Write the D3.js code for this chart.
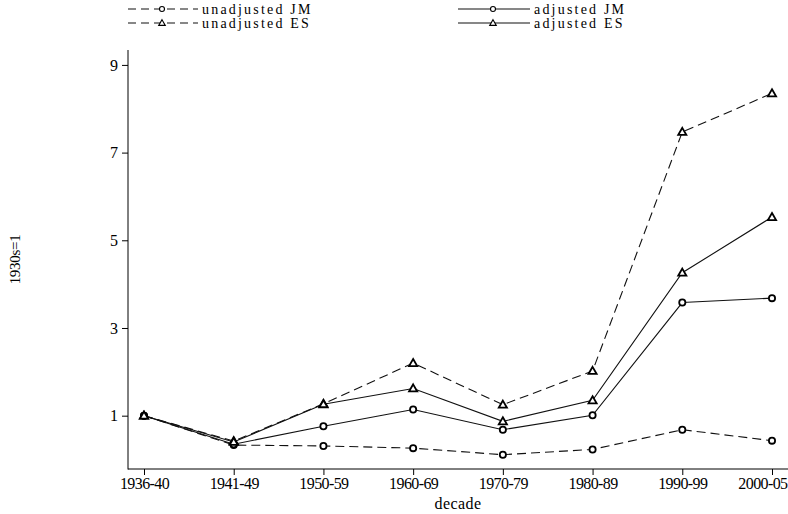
<!DOCTYPE html>
<html lang="en">
<head>
  <meta charset="UTF-8">
  <title>Relative to 1930s by decade</title>
  <script src="https://d3js.org/d3.v7.min.js"></script>
  <style>
    body { margin: 0; background: #fff; }
    text { font-family: "Liberation Serif", "Times New Roman", serif; fill: #000; }
    .tick line, .axis-line { stroke: #000; stroke-width: 1; }
    .series { fill: none; stroke: #111; stroke-width: 1.1; }
    .marker { fill: #fff; stroke: #000; stroke-width: 1.8; }
  </style>
</head>
<body>
  <div id="chart"></div>

  <script>
    const decades = ["1936-40", "1941-49", "1950-59", "1960-69", "1970-79", "1980-89", "1990-99", "2000-05"];

    const unadjustedJM = [1.0, 0.33, 0.31, 0.26, 0.11, 0.23, 0.68, 0.43];
    const adjustedJM   = [1.0, 0.35, 0.76, 1.14, 0.68, 1.01, 3.58, 3.68];
    const unadjustedES = [1.0, 0.42, 1.27, 2.20, 1.25, 2.02, 7.47, 8.35];
    const adjustedES   = [1.0, 0.40, 1.26, 1.62, 0.87, 1.35, 4.26, 5.53];

    const yTicks = [1, 3, 5, 7, 9];

    const series = [
      {name: "unadjusted JM", values: unadjustedJM, dashed: true,  shape: "circle"},
      {name: "unadjusted ES", values: unadjustedES, dashed: true,  shape: "triangle"},
      {name: "adjusted JM",   values: adjustedJM,   dashed: false, shape: "circle"},
      {name: "adjusted ES",   values: adjustedES,   dashed: false, shape: "triangle"}
    ];

    const W = 788, H = 514;
    const plotLeft = 128, plotBottom = 469, plotTop = 50, plotRight = 788;

    const svg = d3.select("#chart")
      .append("svg")
      .attr("width", W)
      .attr("height", H);

    const x = d3.scalePoint()
      .domain(decades)
      .range([144, 772]);

    const y = d3.scaleLinear()
      .domain([-0.216, 9.34])
      .range([plotBottom, plotTop]);

    // axes
    svg.append("line").attr("class", "axis-line")
      .attr("x1", plotLeft).attr("x2", plotLeft).attr("y1", plotTop).attr("y2", plotBottom + 0.5);
    svg.append("line").attr("class", "axis-line")
      .attr("x1", plotLeft).attr("x2", plotRight).attr("y1", plotBottom).attr("y2", plotBottom);

    const xAxis = svg.append("g")
      .attr("transform", `translate(0,${plotBottom})`)
      .call(d3.axisBottom(x).tickSize(6).tickSizeOuter(0).tickPadding(3));
    xAxis.select(".domain").remove();
    xAxis.selectAll("text")
      .style("font-size", "16px")
      .style("letter-spacing", "-0.6px")
      .attr("fill", "#000");
    // last label is pushed inside the window edge
    xAxis.selectAll(".tick").filter(d => d === decades[decades.length - 1]).select("text")
      .attr("text-anchor", "end")
      .attr("x", 787 - x(decades[decades.length - 1]));

    const yAxis = svg.append("g")
      .attr("transform", `translate(${plotLeft},0)`)
      .call(d3.axisLeft(y).tickValues(yTicks).tickSize(6).tickSizeOuter(0).tickPadding(4));
    yAxis.select(".domain").remove();
    yAxis.selectAll("text").style("font-size", "16px").attr("fill", "#000");

    svg.append("text")
      .attr("x", (plotLeft + plotRight) / 2)
      .attr("y", 509)
      .attr("text-anchor", "middle")
      .style("font-size", "16px")
      .style("letter-spacing", "0.4px")
      .text("decade");

    svg.append("text")
      .attr("transform", `translate(20,${(plotTop + plotBottom) / 2}) rotate(-90)`)
      .attr("text-anchor", "middle")
      .style("font-size", "15px")
      .style("letter-spacing", "-0.3px")
      .text("1930s=1");

    const triangle = d3.symbol().type(d3.symbolTriangle);

    function drawMarker(g, shape, cx, cy, size) {
      if (shape === "circle") {
        g.append("circle").attr("class", "marker")
          .attr("cx", cx).attr("cy", cy).attr("r", size);
      } else {
        g.append("path").attr("class", "marker")
          .attr("d", triangle.size(size * size * 3)())
          .attr("transform", `translate(${cx},${cy + size * 0.2})`);
      }
    }

    const line = d3.line()
      .x((d, i) => x(decades[i]))
      .y(d => y(d));

    // lines
    series.forEach(s => {
      svg.append("path")
        .datum(s.values)
        .attr("class", "series")
        .attr("stroke-dasharray", s.dashed ? "9,5" : null)
        .attr("d", line);
    });

    // markers
    series.forEach(s => {
      const g = svg.append("g");
      s.values.forEach((v, i) => drawMarker(g, s.shape, x(decades[i]), y(v), 3.1));
    });

    // legend
    const legendCols = [
      {x1: 128, x2: 198, mid: 162, tx: 202},
      {x1: 458, x2: 530, mid: 493, tx: 534}
    ];
    const legendRows = [9, 23];
    const legendItems = [series[0], series[2], series[1], series[3]];

    legendItems.forEach((s, k) => {
      const c = legendCols[k % 2];
      const ry = legendRows[Math.floor(k / 2)];
      const g = svg.append("g");
      g.append("line")
        .attr("class", "series")
        .attr("x1", c.x1).attr("x2", c.x2).attr("y1", ry).attr("y2", ry)
        .attr("stroke-dasharray", s.dashed ? "8,5" : null);
      const m = g.append("g");
      drawMarker(m, s.shape, c.mid, ry, 2.5);
      m.selectAll(".marker").style("stroke-width", 1.1);
      g.append("text")
        .attr("x", c.tx)
        .attr("y", ry + 5)
        .style("font-size", "14px")
        .style("letter-spacing", "2.2px")
        .text(s.name);
    });
  </script>
</body>
</html>
